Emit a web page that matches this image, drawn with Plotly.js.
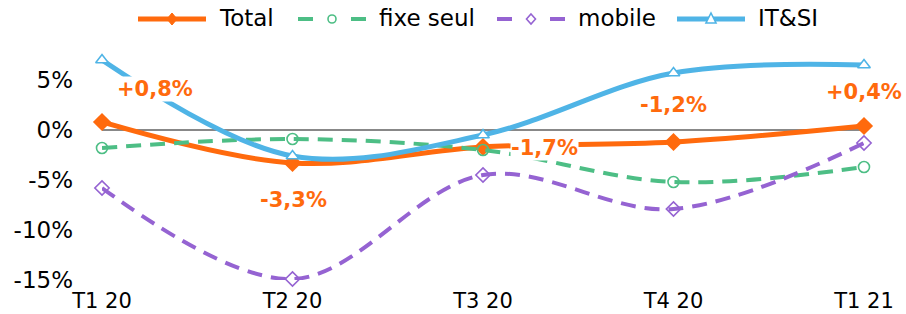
<!DOCTYPE html>
<html><head><meta charset="utf-8">
<script src="https://cdn.plot.ly/plotly-3.0.1.min.js"></script>
<style>html,body{margin:0;padding:0;background:#fff}#c{width:906px;height:314px}</style>
</head><body><div id="c"></div>
<script>
const categories = ["T1 20", "T2 20", "T3 20", "T4 20", "T1 21"];
const total = [0.8, -3.3, -1.7, -1.2, 0.4];
const fixeSeul = [-1.8, -0.9, -2.0, -5.2, -3.7];
const mobile = [-5.8, -14.9, -4.5, -7.9, -1.3];
const itsi = [7.0, -2.6, -0.5, 5.7, 6.5];
const totalLabels = ["+0,8%", "-3,3%", "-1,7%", "-1,2%", "+0,4%"];
const yTicks = [5, 0, -5, -10, -15];
const seriesNames = ["Total", "fixe seul", "mobile", "IT&SI"];

const W = 906, H = 314, ML = 102, MR = 42, MT = 30, MB = 34;
const PW = W - ML - MR, PH = H - MT - MB;
const px2x = p => (p - ML) / PW;
const px2y = p => (H - MB - p) / PH;

const xi = categories.map((_, i) => i);
const ORANGE = "#FF6A0D", GREEN = "#4DBE85", PURPLE = "#9563D2", BLUE = "#4FB4E6";
const FONT = "DejaVu Sans, Verdana, sans-serif";
const SM = 1.0;

const traces = [
  {name: seriesNames[0], x: xi, y: total, mode: "lines+markers", cliponaxis: false,
   line: {color: ORANGE, width: 5, shape: "spline", smoothing: SM},
   marker: {symbol: "diamond", size: 14, color: ORANGE}},
  {name: seriesNames[1], x: xi, y: fixeSeul, mode: "lines+markers", cliponaxis: false,
   line: {color: GREEN, width: 4, dash: "15px,9px", shape: "spline", smoothing: SM},
   marker: {symbol: "circle-open", size: 11, color: GREEN, line: {width: 1.6}}},
  {name: seriesNames[2], x: xi, y: mobile, mode: "lines+markers", cliponaxis: false,
   line: {color: PURPLE, width: 4, dash: "15px,9px", shape: "spline", smoothing: SM},
   marker: {symbol: "diamond-open", size: 11, color: PURPLE, line: {width: 1.6}}},
  {name: seriesNames[3], x: xi, y: itsi, mode: "lines+markers", cliponaxis: false,
   line: {color: BLUE, width: 5, shape: "spline", smoothing: SM},
   marker: {symbol: "triangle-up", size: 11, color: "#fff", line: {color: BLUE, width: 1.6}}}
];

const shifts = [[53, 33], [1, -37], [61, -1], [0, 37], [0, 34]];
const annotations = total.map((v, i) => ({
  x: i, y: v, xref: "x", yref: "y", text: totalLabels[i], showarrow: false,
  xshift: shifts[i][0], yshift: shifts[i][1], bgcolor: "#fff", borderpad: 0,
  font: {family: FONT, size: 21, color: ORANGE, weight: "bold"}
}));

// custom legend (layout positions in px)
const legStart = [138, 298, 497, 677], legLen = 68, legTextGap = 80, legY = 19;
const shapes = [];
traces.forEach((t, i) => {
  const x0 = legStart[i], x1 = x0 + legLen, cx = (x0 + x1) / 2;
  const dashed = !!t.line.dash;
  shapes.push({type: "line", xref: "paper", yref: "paper", x0: px2x(x0), x1: px2x(x1), y0: px2y(legY), y1: px2y(legY),
    line: {color: t.line.color, width: t.line.width, dash: dashed ? "15px,38px,15px" : "solid"}});
  const anchor = {xref: "paper", yref: "paper", xsizemode: "pixel", ysizemode: "pixel", xanchor: px2x(cx), yanchor: px2y(legY)};
  const sym = t.marker.symbol;
  if (sym === "diamond") shapes.push(Object.assign({type: "path", path: "M0,6L5,0L0,-6L-5,0Z", fillcolor: t.line.color, line: {color: t.line.color, width: 1}}, anchor));
  if (sym === "circle-open") shapes.push(Object.assign({type: "circle", x0: -4, x1: 4, y0: -4, y1: 4, fillcolor: "#fff", line: {color: t.line.color, width: 1.6}}, anchor));
  if (sym === "diamond-open") shapes.push(Object.assign({type: "path", path: "M0,5L4.5,0L0,-5L-4.5,0Z", fillcolor: "#fff", line: {color: t.line.color, width: 1.6}}, anchor));
  if (sym === "triangle-up") shapes.push(Object.assign({type: "path", path: "M0,6L5,-4L-5,-4Z", fillcolor: "#fff", line: {color: t.line.color, width: 1.6}}, anchor));
  annotations.push({xref: "paper", yref: "paper", x: px2x(x0 + legTextGap), y: px2y(legY - 1), xanchor: "left", yanchor: "middle",
    text: t.name, showarrow: false, borderpad: 0, font: {family: FONT, size: 23, color: "#000"}});
});

const layout = {
  width: W, height: H,
  margin: {l: ML, r: MR, t: MT, b: MB},
  paper_bgcolor: "#fff", plot_bgcolor: "#fff",
  font: {family: FONT, size: 21, color: "#000"},
  showlegend: false,
  xaxis: {type: "linear", range: [0, 4], tickvals: xi, ticktext: categories, showgrid: false, zeroline: false,
          showline: false, ticks: "", tickfont: {size: 21}, ticklabelstandoff: 6},
  yaxis: {range: [-15, 10], tickvals: yTicks, ticktext: yTicks.map(v => v + "%"), showgrid: false,
          zeroline: true, zerolinecolor: "#888", zerolinewidth: 1.6, showline: false, ticks: "",
          tickfont: {size: 23}, ticklabelstandoff: 28},
  shapes: shapes,
  annotations: annotations
};
Plotly.newPlot("c", traces, layout, {displayModeBar: false, staticPlot: true});
</script></body></html>
